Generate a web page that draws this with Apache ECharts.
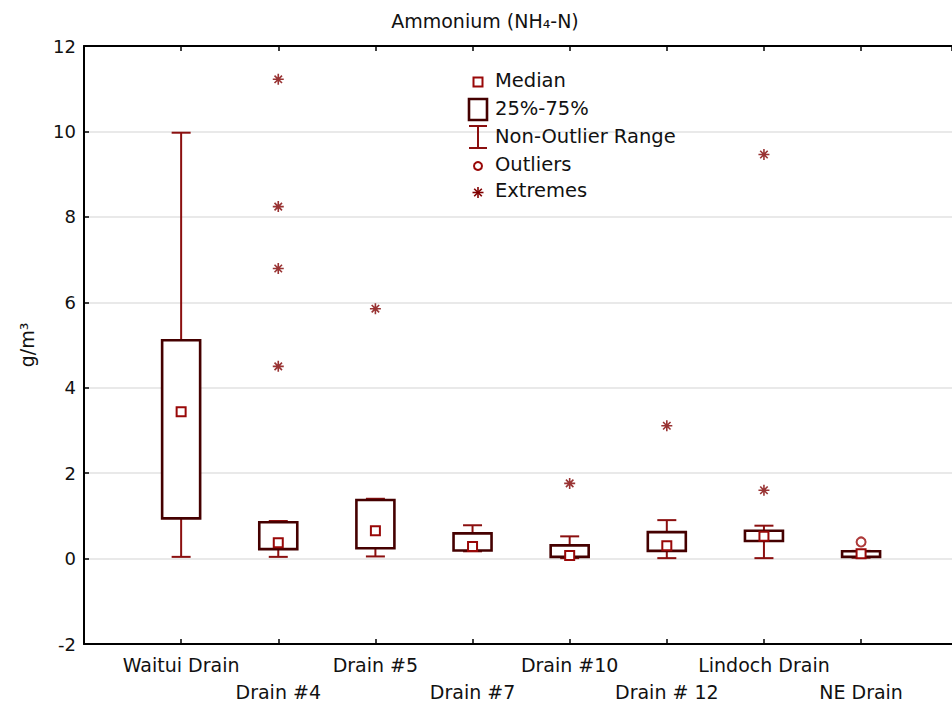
<!DOCTYPE html>
<html>
<head>
<meta charset="utf-8">
<script src="https://cdn.jsdelivr.net/npm/echarts@6/dist/echarts.min.js"></script>
<style>html,body{margin:0;padding:0;background:#fff}#c{width:952px;height:708px}</style>
</head>
<body>
<div id="c"></div>
<script>
// ---- data ----
var categories = ['Waitui Drain', 'Drain #4', 'Drain #5', 'Drain #7', 'Drain #10', 'Drain # 12', 'Lindoch Drain', 'NE Drain'];
var whiskerLow  = [0.04, 0.04, 0.05, 0.17, 0.01, 0.01, 0.01, 0.02];
var q1          = [0.94, 0.22, 0.24, 0.19, 0.04, 0.18, 0.41, 0.04];
var medians     = [3.44, 0.37, 0.65, 0.28, 0.07, 0.30, 0.52, 0.11];
var q3          = [5.11, 0.85, 1.37, 0.59, 0.31, 0.62, 0.65, 0.17];
var whiskerHigh = [9.97, 0.88, 1.40, 0.78, 0.52, 0.90, 0.77, 0.18];
// [category index (1-based), value]
var outliers = [[8, 0.39]];
var extremes = [[2, 11.22], [2, 8.24], [2, 6.79], [2, 4.50], [3, 5.85], [5, 1.76], [6, 3.11], [7, 9.46], [7, 1.60]];
var yTicks = { min: -2, max: 12, interval: 2 };

var FONT = 'DejaVu Sans';
var BOX_COLOR = '#450000';
var WHISKER_COLOR = '#8b0f0f';
var STAR_COLOR = '#800000';
var MEDIAN_COLOR = '#990808';
var STAR_PATH = 'path://M5,0V10M0,5H10M1.6,1.6L8.4,8.4M1.6,8.4L8.4,1.6';

var boxData = categories.map(function (c, i) {
  return [i + 1, whiskerLow[i], q1[i], medians[i], q3[i], whiskerHigh[i]];
});

var chart = echarts.init(document.getElementById('c'), null, { renderer: 'svg' });

function renderBox(params, api) {
  var x = api.value(0);
  var pLow = api.coord([x, api.value(1)]);
  var pQ1 = api.coord([x, api.value(2)]);
  var pMed = api.coord([x, api.value(3)]);
  var pQ3 = api.coord([x, api.value(4)]);
  var pHigh = api.coord([x, api.value(5)]);
  var cx = pLow[0];
  var halfBox = 19, halfCap = 9.5, ms = 4.5;
  var wStyle = { stroke: WHISKER_COLOR, lineWidth: 2 };
  return {
    type: 'group',
    children: [
      { type: 'line', shape: { x1: cx, y1: pLow[1], x2: cx, y2: pQ1[1] }, style: wStyle },
      { type: 'line', shape: { x1: cx, y1: pQ3[1], x2: cx, y2: pHigh[1] }, style: wStyle },
      { type: 'line', shape: { x1: cx - halfCap, y1: pLow[1], x2: cx + halfCap, y2: pLow[1] }, style: wStyle },
      { type: 'line', shape: { x1: cx - halfCap, y1: pHigh[1], x2: cx + halfCap, y2: pHigh[1] }, style: wStyle },
      { type: 'rect', shape: { x: cx - halfBox, y: pQ3[1], width: halfBox * 2, height: pQ1[1] - pQ3[1] },
        style: { fill: '#fff', stroke: BOX_COLOR, lineWidth: 2.6 } },
      { type: 'rect', shape: { x: cx - ms, y: pMed[1] - ms, width: ms * 2, height: ms * 2 },
        style: { fill: '#fff', stroke: MEDIAN_COLOR, lineWidth: 2 } }
    ]
  };
}

var lx = 478, tx = 495;
var legendRows = [82, 110, 138.5, 166, 192.5];
var legendTexts = ['Median', '25%-75%', 'Non-Outlier Range', 'Outliers', 'Extremes'];
var starY = legendRows[4];
var starStyle = { stroke: STAR_COLOR, lineWidth: 1.6 };
var graphics = [
  { type: 'rect', shape: { x: lx - 4.5, y: legendRows[0] - 4.5, width: 9, height: 9 }, style: { fill: '#fff', stroke: MEDIAN_COLOR, lineWidth: 2 }, z: 100 },
  { type: 'rect', shape: { x: lx - 9, y: legendRows[1] - 11, width: 18, height: 21 }, style: { fill: '#fff', stroke: BOX_COLOR, lineWidth: 2.6 }, z: 100 },
  { type: 'line', shape: { x1: lx, y1: 126, x2: lx, y2: 148 }, style: { stroke: WHISKER_COLOR, lineWidth: 2 }, z: 100 },
  { type: 'line', shape: { x1: lx - 9, y1: 126, x2: lx + 9, y2: 126 }, style: { stroke: WHISKER_COLOR, lineWidth: 2 }, z: 100 },
  { type: 'line', shape: { x1: lx - 9, y1: 148, x2: lx + 9, y2: 148 }, style: { stroke: WHISKER_COLOR, lineWidth: 2 }, z: 100 },
  { type: 'circle', shape: { cx: lx, cy: legendRows[3], r: 4 }, style: { fill: '#fff', stroke: MEDIAN_COLOR, lineWidth: 2 }, z: 100 },
  { type: 'line', shape: { x1: lx, y1: starY - 5.5, x2: lx, y2: starY + 5.5 }, style: starStyle, z: 100 },
  { type: 'line', shape: { x1: lx - 5.5, y1: starY, x2: lx + 5.5, y2: starY }, style: starStyle, z: 100 },
  { type: 'line', shape: { x1: lx - 3.8, y1: starY - 3.8, x2: lx + 3.8, y2: starY + 3.8 }, style: starStyle, z: 100 },
  { type: 'line', shape: { x1: lx - 3.8, y1: starY + 3.8, x2: lx + 3.8, y2: starY - 3.8 }, style: starStyle, z: 100 }
];
legendTexts.forEach(function (t, i) {
  graphics.push({ type: 'text', left: tx, top: legendRows[i] - 12, z: 100,
    style: { text: t, fontFamily: FONT, fontSize: 19.5, fill: '#111' } });
});

var option = {
  backgroundColor: '#fff',
  animation: false,
  title: {
    text: 'Ammonium (NH₄-N)',
    left: 480, top: 6, textAlign: 'center',
    textStyle: { fontFamily: FONT, fontSize: 19, fontWeight: 'normal', color: '#111' }
  },
  grid: { left: 84, right: 0, top: 46, bottom: 64, containLabel: false, outerBoundsMode: 'none' },
  xAxis: [{
    type: 'value', min: 0, max: 8.936, interval: 1, position: 'bottom',
    axisLine: { show: true, onZero: false, lineStyle: { color: '#000', width: 2 } },
    axisTick: { show: true, inside: true, length: 5, lineStyle: { color: '#000', width: 1.5 } },
    splitLine: { show: false },
    axisLabel: {
      margin: 7, color: '#111', fontFamily: FONT, fontSize: 19, lineHeight: 27,
      showMinLabel: true, showMaxLabel: false,
      formatter: function (v) {
        var i = Math.round(v) - 1;
        if (i < 0 || i >= categories.length) return '';
        return (i % 2 === 1 ? '\n' : '') + categories[i];
      }
    }
  }, {
    type: 'value', min: 0, max: 8.936, interval: 1, position: 'top',
    axisLine: { show: true, onZero: false, lineStyle: { color: '#000', width: 2 } },
    axisTick: { show: true, inside: true, length: 5, lineStyle: { color: '#000', width: 1.5 } },
    splitLine: { show: false }, axisLabel: { show: false }
  }],
  yAxis: {
    type: 'value', min: yTicks.min, max: yTicks.max, interval: yTicks.interval,
    name: 'g/m³', nameLocation: 'middle', nameGap: 48, nameRotate: 90,
    nameTextStyle: { fontFamily: FONT, fontSize: 19, color: '#111' },
    axisLine: { show: true, onZero: false, lineStyle: { color: '#000', width: 2 } },
    axisTick: { show: true, inside: true, length: 5, lineStyle: { color: '#000', width: 1.5 } },
    splitLine: { show: true, lineStyle: { color: '#e2e2e2', width: 1.5 } },
    axisLabel: { margin: 8, color: '#111', fontFamily: FONT, fontSize: 18 }
  },
  graphic: graphics,
  series: [{
    name: 'Box', type: 'custom', renderItem: renderBox, data: boxData,
    encode: { x: 0, y: [1, 2, 3, 4, 5] }, z: 5
  }, {
    name: 'Outliers', type: 'scatter', data: outliers, symbol: 'circle', symbolSize: 9,
    itemStyle: { color: '#fff', borderColor: MEDIAN_COLOR, borderWidth: 2 }, z: 6
  }, {
    name: 'Extremes', type: 'scatter', data: extremes, symbol: STAR_PATH, symbolSize: 11,
    itemStyle: { color: 'rgba(0,0,0,0)', borderColor: STAR_COLOR, borderWidth: 1.6 }, z: 6
  }]
};
chart.setOption(option);
</script>
</body>
</html>
